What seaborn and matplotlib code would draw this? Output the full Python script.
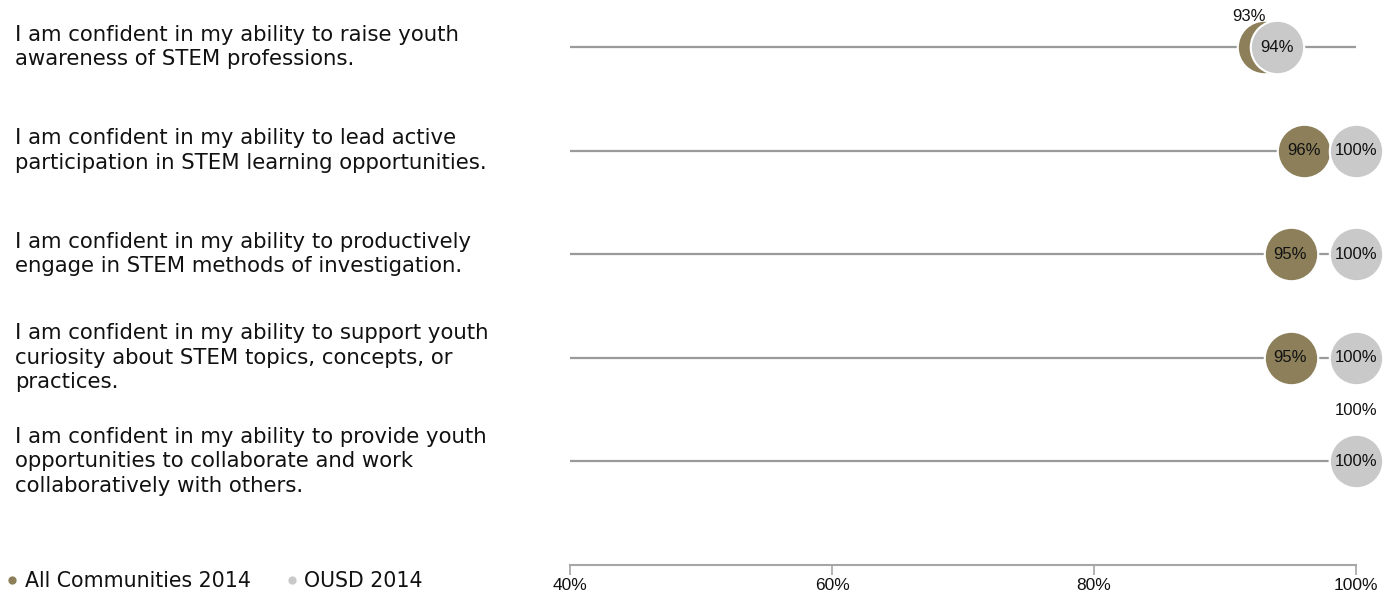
import matplotlib
matplotlib.use("Agg")
import matplotlib.pyplot as plt
import matplotlib.transforms as mtransforms
import seaborn as sns
import pandas as pd
from matplotlib.lines import Line2D

categories = [
    "I am confident in my ability to raise youth\nawareness of STEM professions.",
    "I am confident in my ability to lead active\nparticipation in STEM learning opportunities.",
    "I am confident in my ability to productively\nengage in STEM methods of investigation.",
    "I am confident in my ability to support youth\ncuriosity about STEM topics, concepts, or\npractices.",
    "I am confident in my ability to provide youth\nopportunities to collaborate and work\ncollaboratively with others.",
]
series_names = ["All Communities 2014", "OUSD 2014"]
all_communities = [93, 96, 95, 95, 100]
ousd = [94, 100, 100, 100, 100]
x_ticks = [40, 60, 80, 100]
x_tick_labels = ["40%", "60%", "80%", "100%"]

colors = {"All Communities 2014": "#8C7F5A", "OUSD 2014": "#C9C9C9"}
narrow = ["Liberation Sans Narrow", "Liberation Sans", "DejaVu Sans"]

rows = []
for i in range(len(categories)):
    rows.append({"row": i, "value": all_communities[i], "series": series_names[0]})
    rows.append({"row": i, "value": ousd[i], "series": series_names[1]})
df = pd.DataFrame(rows)

sns.set_theme(style="white")
plt.rcParams["font.family"] = ["DejaVu Sans"]

W, H = 1393, 594
fig = plt.figure(figsize=(W / 100, H / 100), dpi=100)
ax = fig.add_axes([570 / W, (H - 565) / H, (1356 - 570) / W, 565 / H])

# row lines
ax.hlines(range(len(categories)), 40, 100, color="#9A9A9A", lw=1.6, zorder=1)

for name in series_names:
    sub = df[df["series"] == name]
    sns.scatterplot(data=sub, x="value", y="row", ax=ax, s=1480, color=colors[name],
                    edgecolor="white", linewidth=1.5, zorder=3, clip_on=False, legend=False)

ax.set_xlim(40, 100)
ax.set_ylim(5.0, -0.454)

# data labels
lab_kw = dict(ha="center", va="center", fontsize=12, color="#111111", family=narrow)
for i in range(len(categories)):
    a, o = all_communities[i], ousd[i]
    if a == o:
        ax.annotate(f"{a}%", (a, i), xytext=(0, 37), textcoords="offset points", **lab_kw)
    elif abs(a - o) < 1.5:
        ax.annotate(f"{a}%", (a, i), xytext=(-11, 22), textcoords="offset points", **lab_kw)
    else:
        ax.text(a, i, f"{a}%", zorder=5, **lab_kw)
    ax.text(o, i, f"{o}%", zorder=5, **lab_kw)

# category labels
trans = mtransforms.blended_transform_factory(fig.transFigure, ax.transData)
for i, c in enumerate(categories):
    ax.text(15 / W, i, c, transform=trans, ha="left", va="center", fontsize=15.3,
            color="#111111", linespacing=1.28)

ax.set_xticks(x_ticks)
ax.set_xticklabels(x_tick_labels, fontsize=12.5, family=narrow)
ax.set_yticks([])
for s in ["top", "left", "right"]:
    ax.spines[s].set_visible(False)
ax.spines["bottom"].set_color("#A6A6A6")
ax.spines["bottom"].set_linewidth(1.5)
ax.tick_params(axis="x", direction="out", length=7, width=1.2, color="#A6A6A6", pad=2,
               labelcolor="#111111", bottom=True)
ax.set_xlabel("")
ax.set_ylabel("")

handles = [Line2D([0], [0], marker="o", linestyle="", markersize=6.5,
                  markerfacecolor=colors[n], markeredgecolor="white", markeredgewidth=0.5)
           for n in series_names]
fig.legend(handles, series_names, loc="lower left", bbox_to_anchor=(-0.006, -0.013), ncol=2,
           frameon=False, fontsize=14.8, handletextpad=0.1, columnspacing=1.5,
           handlelength=1.0, borderaxespad=0.1, labelcolor="#111111")

fig.savefig("out.png", dpi=100)
